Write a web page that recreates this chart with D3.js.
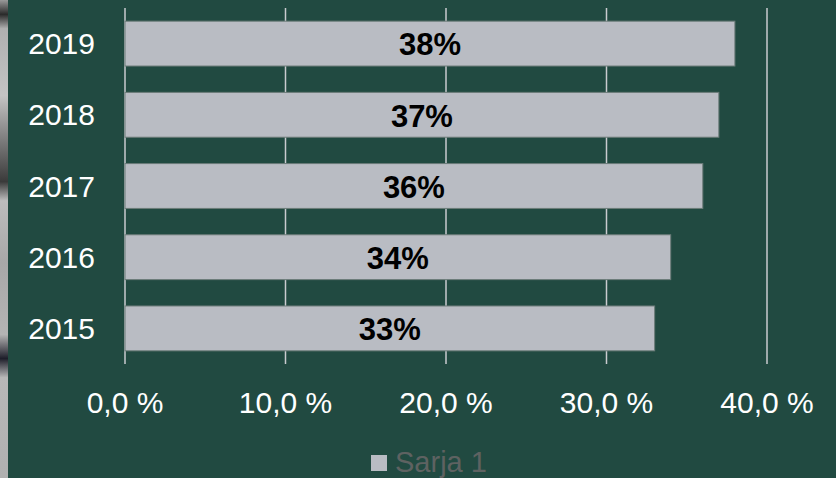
<!DOCTYPE html>
<html>
<head>
<meta charset="utf-8">
<script src="https://cdn.jsdelivr.net/npm/d3@7"></script>
<style>
  body { margin: 0; background: #214a41; }
  svg { display: block; font-family: "Liberation Sans", Arial, sans-serif; }
</style>
</head>
<body>
<svg></svg>
<script>
const years = ['2019', '2018', '2017', '2016', '2015'];
const values = [38, 37, 36, 34, 33];
const xTicks = [0, 10, 20, 30, 40];
const seriesName = 'Sarja 1';

function drawChart() {
    const width = 836;
    const height = 478;
    const margin = { top: 8, right: 69, bottom: 114, left: 125 };

    const svg = d3.select('svg')
        .attr('width', width)
        .attr('height', height);

    svg.append('rect')
        .attr('width', width)
        .attr('height', height)
        .attr('fill', '#214a41');

    // photo strip on the left edge
    const grad = svg.append('defs').append('linearGradient')
        .attr('id', 'strip')
        .attr('x1', 0).attr('y1', 0).attr('x2', 0).attr('y2', 1);
    [[0, '#9a9a9a'], [0.03, '#2a2a2a'], [0.06, '#b0b0b0'], [0.2, '#c4c4c4'], [0.38, '#3a3a3a'],
     [0.42, '#bdbdbd'], [0.55, '#a8a8a8'], [0.7, '#b4b4b4'], [0.75, '#1e1e2a'], [0.79, '#b8b8b8'],
     [1, '#b0b0b0']].forEach(([o, c]) => grad.append('stop').attr('offset', o).attr('stop-color', c));
    svg.append('rect')
        .attr('width', 8)
        .attr('height', height)
        .attr('fill', 'url(#strip)');

    const x = d3.scaleLinear()
        .domain([0, 40])
        .range([margin.left, margin.left + 642]);

    const y = d3.scaleBand()
        .domain(years)
        .range([margin.top, height - margin.bottom])
        .paddingInner(0.37)
        .paddingOuter(0.185);

    const plotBottom = height - margin.bottom;

    // gridlines
    svg.selectAll('.grid')
        .data(xTicks)
        .enter().append('line')
        .attr('class', 'grid')
        .attr('x1', d => x(d)).attr('x2', d => x(d))
        .attr('y1', margin.top).attr('y2', plotBottom)
        .attr('stroke', '#c9cbcf')
        .attr('stroke-width', 1.5);

    // bars
    svg.selectAll('.bar')
        .data(years)
        .enter().append('rect')
        .attr('class', 'bar')
        .attr('x', x(0))
        .attr('y', d => y(d))
        .attr('width', (d, i) => x(values[i]) - x(0))
        .attr('height', y.bandwidth())
        .attr('fill', '#b9bcc3')
        .attr('stroke', '#6b7b78')
        .attr('stroke-width', 1);

    // data labels
    svg.selectAll('.label')
        .data(years)
        .enter().append('text')
        .attr('class', 'label')
        .attr('x', (d, i) => (x(0) + x(values[i])) / 2)
        .attr('y', d => y(d) + y.bandwidth() / 2 + 1)
        .attr('dy', '0.35em')
        .attr('text-anchor', 'middle')
        .style('font-size', '31px')
        .style('font-weight', 'bold')
        .style('fill', '#000')
        .text((d, i) => values[i] + '%');

    // y axis labels
    svg.selectAll('.ylab')
        .data(years)
        .enter().append('text')
        .attr('class', 'ylab')
        .attr('x', 95)
        .attr('y', d => y(d) + y.bandwidth() / 2)
        .attr('dy', '0.35em')
        .attr('text-anchor', 'end')
        .style('font-size', '30px')
        .style('fill', '#fff')
        .text(d => d);

    // x axis labels
    svg.selectAll('.xlab')
        .data(xTicks)
        .enter().append('text')
        .attr('class', 'xlab')
        .attr('x', d => x(d))
        .attr('y', 402)
        .attr('dy', '0.35em')
        .attr('text-anchor', 'middle')
        .style('font-size', '30px')
        .style('fill', '#fff')
        .text(d => d3.format('.1f')(d).replace('.', ',') + ' %');

    // legend
    const legend = svg.append('g').attr('transform', 'translate(371, 455)');
    legend.append('rect')
        .attr('width', 16).attr('height', 16)
        .attr('fill', '#b9bcc3');
    legend.append('text')
        .attr('x', 24).attr('y', 7)
        .attr('dy', '0.35em')
        .style('font-size', '29px')
        .style('fill', '#5e6261')
        .text(seriesName);
}

window.addEventListener('load', drawChart);
</script>
</body>
</html>
